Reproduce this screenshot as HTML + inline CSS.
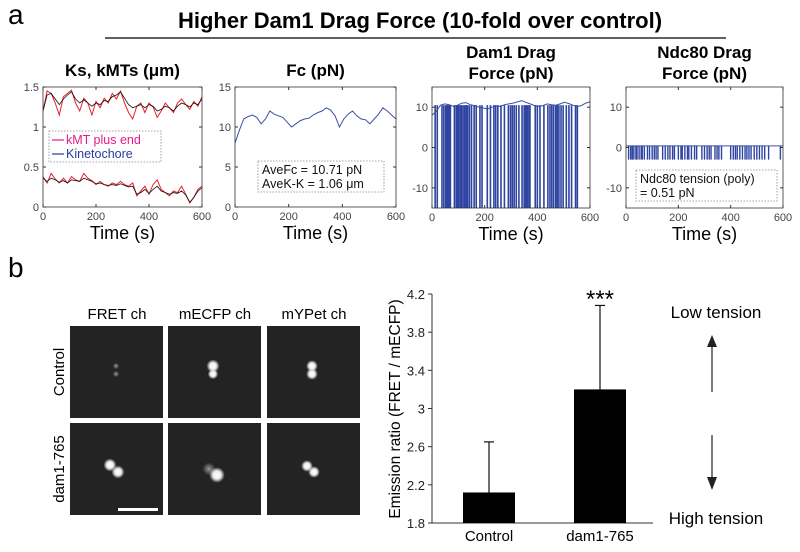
<!DOCTYPE html>
<html><head><meta charset="utf-8"><style>
body{margin:0;background:#fff;}
svg{display:block;font-family:"Liberation Sans",Arial,sans-serif;}
</style></head><body>
<svg id="fig" width="800" height="552" viewBox="0 0 800 552">
<defs>
<radialGradient id="spot"><stop offset="0" stop-color="#fff"/><stop offset="0.5" stop-color="#eee"/><stop offset="1" stop-color="#fff" stop-opacity="0"/></radialGradient>
<radialGradient id="spotDim"><stop offset="0" stop-color="#999"/><stop offset="1" stop-color="#999" stop-opacity="0"/></radialGradient>
</defs>
<text x="8" y="24" font-size="28">a</text>
<text x="420" y="28" font-size="22" font-weight="bold" text-anchor="middle">Higher Dam1 Drag Force (10-fold over control)</text>
<line x1="105" y1="38" x2="726" y2="38" stroke="#000" stroke-width="1.2"/>
<g id="panels"></g>
<text x="8" y="277" font-size="28">b</text>
<g id="micro"></g>
<g id="bars"></g>
</svg>
<script>
const NS="http://www.w3.org/2000/svg";
function mk(tag,attrs,parent){const e=document.createElementNS(NS,tag);for(const k in attrs)e.setAttribute(k,attrs[k]);parent.appendChild(e);return e;}

// ---- data panel a ----
const timeTicks=[0,200,400,600];
const ksUpperRed=[1.2,1.45,1.42,1.3,1.15,1.38,1.42,1.46,1.3,1.2,1.36,1.3,1.15,1.32,1.24,1.36,1.3,1.42,1.35,1.45,1.3,1.18,1.1,1.26,1.3,1.18,1.3,1.25,1.12,1.2,1.3,1.24,1.18,1.3,1.35,1.28,1.22,1.32,1.26,1.38];
const ksUpperBlack=[1.2,1.4,1.42,1.35,1.28,1.35,1.4,1.44,1.35,1.3,1.34,1.3,1.26,1.3,1.28,1.33,1.32,1.38,1.4,1.44,1.36,1.28,1.24,1.26,1.28,1.24,1.28,1.26,1.2,1.22,1.26,1.24,1.2,1.26,1.3,1.28,1.25,1.3,1.28,1.35];
const ksLowerRed=[0.38,0.3,0.42,0.35,0.3,0.36,0.3,0.38,0.34,0.32,0.42,0.36,0.33,0.28,0.32,0.28,0.26,0.3,0.28,0.32,0.28,0.26,0.3,0.14,0.2,0.26,0.16,0.28,0.34,0.22,0.18,0.14,0.2,0.18,0.26,0.16,0.05,0.12,0.22,0.26];
const ksLowerBlack=[0.36,0.32,0.36,0.34,0.31,0.33,0.3,0.34,0.33,0.32,0.36,0.34,0.32,0.29,0.3,0.28,0.27,0.28,0.27,0.29,0.27,0.25,0.26,0.16,0.18,0.22,0.17,0.22,0.26,0.2,0.18,0.16,0.18,0.17,0.2,0.15,0.06,0.12,0.2,0.24];
const fcValues=[8,9.6,11,11.3,11.5,11.2,10.4,11,12,11.6,11.4,11.2,10.6,10,10.4,10.8,11,11.1,11.5,11.8,12,12.4,12.1,11.4,10,11,11.6,12,11.4,11,10.9,10.4,11,11.6,12.4,12,11.5,11];
const dam1Env=[8,9,10.5,10.8,10.6,10.2,10.5,11,11.1,10.6,10.4,10,9.8,9.6,10,10.3,10.2,10.6,10.8,11,11.3,11.6,11.2,10.8,10.4,10.2,10.4,10.8,10.6,10.5,10.8,11.2,10.9,10.5,10.2,10.4,11,11.3];
const dam1DropTimes=[12,20,38,45,52,58,62,66,70,85,92,98,102,108,112,118,124,130,135,142,150,160,168,182,190,210,222,235,242,250,262,275,290,298,305,312,320,330,342,350,356,362,368,372,392,400,410,425,440,448,455,462,470,476,482,490,498,510,520,530,545,552];
const ndcDropTimes=[10,18,24,30,38,42,50,58,62,70,82,90,100,108,115,122,140,150,160,168,178,185,200,210,215,225,235,240,250,262,270,290,300,310,318,325,340,348,355,365,400,410,418,425,435,445,455,462,470,478,490,500,510,520,530,545,590];
const ndcBase=0.4, ndcLow=-3;

function panel(opt){
  const g=mk('g',{},document.getElementById('panels'));
  const X=t=>opt.x0+(t-0)/600*(opt.x1-opt.x0);
  const Y=v=>opt.y1-(v-opt.ymin)/(opt.ymax-opt.ymin)*(opt.y1-opt.y0);
  const cx=(opt.x0+opt.x1)/2;
  opt.title.forEach((s,i)=>{const t=mk('text',{x:cx,y:opt.ty+i*21,'font-size':17,'font-weight':'bold','text-anchor':'middle'},g);t.textContent=s;});
  const cl='c'+opt.name;
  const cp=mk('clipPath',{id:cl},g);mk('rect',{x:opt.x0,y:opt.y0,width:opt.x1-opt.x0,height:opt.y1-opt.y0},cp);
  const plot=mk('g',{'clip-path':'url(#'+cl+')'},g);
  opt.draw(plot,X,Y);
  const box=mk('rect',{x:opt.x0,y:opt.y0,width:opt.x1-opt.x0,height:opt.y1-opt.y0,fill:'none',stroke:'#333','stroke-width':0.8},g);
  
  timeTicks.forEach(t=>{const x=X(t);mk('line',{x1:x,x2:x,y1:opt.y1,y2:opt.y1-3,stroke:'#333'},g);mk('line',{x1:x,x2:x,y1:opt.y0,y2:opt.y0+3,stroke:'#333'},g);
    const tx=mk('text',{x:x,y:opt.y1+13,'font-size':11,fill:'#444','text-anchor':'middle'},g);tx.textContent=t;});
  opt.yticks.forEach((v,i)=>{const y=Y(v);mk('line',{x1:opt.x0,x2:opt.x0+3,y1:y,y2:y,stroke:'#333'},g);mk('line',{x1:opt.x1,x2:opt.x1-3,y1:y,y2:y,stroke:'#333'},g);
    const tx=mk('text',{x:opt.x0-4,y:y+4,'font-size':11,fill:'#444','text-anchor':'end'},g);tx.textContent=opt.ylabels[i];});
  const xt=mk('text',{x:cx,y:opt.y1+32,'font-size':18,'text-anchor':'middle'},g);xt.textContent='Time (s)';
  if(opt.after)opt.after(g,X,Y);
}
function line(p,arr,X,Y,col,w){const d=arr.map((v,i)=>(i?'L':'M')+X(i*600/(arr.length-1)).toFixed(1)+','+Y(v).toFixed(1)).join('');const e=mk('path',{d:d,fill:'none',stroke:col,'stroke-width':w||1},p);return e;}
function legendBox(g,x,y,w,h,lines){
  const r=mk('rect',{x:x,y:y,width:w,height:h,fill:'#fff',stroke:'#888','stroke-dasharray':'1.5,1.5','stroke-width':0.8},g);
  
  lines.forEach((l,i)=>{const t=mk('text',{x:x+(l.sw?17:4),y:y+13+i*14,'font-size':12.5,fill:l.c||'#111'},g);t.textContent=l.t;
    if(l.sw)mk('line',{x1:x+3,x2:x+15,y1:y+9+i*14,y2:y+9+i*14,stroke:l.sw,'stroke-width':1.2},g);});
}
panel({name:'ks-panel',x0:43,x1:202,y0:87,y1:207,ymin:0,ymax:1.5,yticks:[0,0.5,1,1.5],ylabels:['0','0.5','1','1.5'],title:['Ks, kMTs (\u03bcm)'],ty:76,
  draw:(p,X,Y)=>{const a=line(p,ksUpperRed,X,Y,'#e8202a');
    const b=line(p,ksUpperBlack,X,Y,'#111',0.8);
    const c=line(p,ksLowerRed,X,Y,'#e8202a');
    const d=line(p,ksLowerBlack,X,Y,'#111',0.8);},
  after:(g)=>legendBox(g,49,131,112,31,[{t:'kMT plus end',c:'#e8198c',sw:'#e8198c'},{t:'Kinetochore',c:'#2b3a9c',sw:'#2b3a9c'}])});
panel({name:'fc-panel',x0:235,x1:396,y0:87,y1:207,ymin:0,ymax:15,yticks:[0,5,10,15],ylabels:['0','5','10','15'],title:['Fc (pN)'],ty:76,
  draw:(p,X,Y)=>{const a=line(p,fcValues,X,Y,'#3a50a8');},
  after:(g)=>legendBox(g,258,161,126,31,[{t:'AveFc = 10.71 pN'},{t:'AveK-K = 1.06 \u03bcm'}])});
panel({name:'dam1-panel',x0:432,x1:590,y0:87,y1:208,ymin:-15,ymax:15,yticks:[-10,0,10],ylabels:['-10','0','10'],title:['Dam1 Drag','Force (pN)'],ty:58,
  draw:(p,X,Y)=>{const a=line(p,dam1Env,X,Y,'#3a50a8');
    dam1DropTimes.forEach(t=>{const e=mk('line',{x1:X(t),x2:X(t),y1:Y(10.5),y2:Y(-15),stroke:'#2e44a0','stroke-width':1.6},p);});}});
panel({name:'ndc80-panel',x0:626,x1:783,y0:87,y1:208,ymin:-15,ymax:15,yticks:[-10,0,10],ylabels:['-10','0','10'],title:['Ndc80 Drag','Force (pN)'],ty:58,
  draw:(p,X,Y)=>{const a=mk('line',{x1:X(0),x2:X(600),y1:Y(ndcBase),y2:Y(ndcBase),stroke:'#3a50a8'},p);
    ndcDropTimes.forEach(t=>{const e=mk('line',{x1:X(t),x2:X(t),y1:Y(ndcBase),y2:Y(ndcLow),stroke:'#2e44a0','stroke-width':1.4},p);});},
  after:(g)=>legendBox(g,636,170,141,31,[{t:'Ndc80 tension (poly)'},{t:'= 0.51 pN'}])});

// ---- microscopy ----
const micro=document.getElementById('micro');
const colNames=['FRET ch','mECFP ch','mYPet ch'];const colX=[70,168,267];
const rowNames=['Control','dam1-765'];const rowY=[326,423];
const spots=[[[[46,40,2.5,1],[46,48,2.5,1]],[[45,40,5,0],[45,48,4,0]],[[45,40,4.5,0],[45,48,4.5,0]]],
 [[[40,42,5,0],[48,49,5,0]],[[41,46,5,1],[49,52,6,0]],[[40,43,4.5,0],[47,49,4.5,0]]]];
rowNames.forEach((rn,r)=>{
  const t=mk('text',{transform:'translate(64,'+(rowY[r]+46)+') rotate(-90)','font-size':15,'text-anchor':'middle'},micro);t.textContent=rn;
  colNames.forEach((cn,c)=>{
    const s=mk('rect',{x:colX[c],y:rowY[r],width:93,height:92,fill:'#232323'},micro);
    spots[r][c].forEach(sp=>mk('circle',{cx:colX[c]+sp[0],cy:rowY[r]+sp[1],r:sp[2]*1.3,fill:sp[3]?'url(#spotDim)':'url(#spot)'},micro));
  });
});
colNames.forEach((cn,c)=>{const t=mk('text',{x:colX[c]+47,y:319,'font-size':15,'text-anchor':'middle'},micro);t.textContent=cn;});
const sb=mk('rect',{x:118,y:508,width:40,height:3,fill:'#fff'},micro);

// ---- bar chart ----
const barCats=['Control','dam1-765'];
const barVals=[2.12,3.2];
const barErr=[2.65,4.08];
const barTicks=[1.8,2.2,2.6,3,3.4,3.8,4.2];
const bg=document.getElementById('bars');
const bx0=432,bx1=653,by0=294,by1=523;
const BY=v=>by1-(v-1.8)/(4.2-1.8)*(by1-by0);
const bCenters=[489,600],bW=52;
mk('line',{x1:bx0,x2:bx0,y1:by0,y2:by1,stroke:'#333'},bg);
mk('line',{x1:bx0,x2:bx1,y1:by1,y2:by1,stroke:'#333'},bg);
barTicks.forEach(v=>{mk('line',{x1:bx0-4,x2:bx0,y1:BY(v),y2:BY(v),stroke:'#333'},bg);
  const t=mk('text',{x:bx0-7,y:BY(v)+5,'font-size':13,'text-anchor':'end',fill:'#222'},bg);t.textContent=(v===3?'3':v.toFixed(1));});
barCats.forEach((c,i)=>{
  const e=mk('line',{x1:bCenters[i],x2:bCenters[i],y1:BY(barErr[i]),y2:BY(barVals[i]),stroke:'#111','stroke-width':1.2},bg);
  mk('line',{x1:bCenters[i]-5,x2:bCenters[i]+5,y1:BY(barErr[i]),y2:BY(barErr[i]),stroke:'#111','stroke-width':1.2},bg);
  const r=mk('rect',{x:bCenters[i]-bW/2,y:BY(barVals[i]),width:bW,height:by1-BY(barVals[i]),fill:'#000'},bg);
  const t=mk('text',{x:bCenters[i],y:541,'font-size':15,'text-anchor':'middle'},bg);t.textContent=c;
});
const st=mk('text',{x:600,y:307,'font-size':24,'text-anchor':'middle'},bg);st.textContent='***';
const yl=mk('text',{transform:'translate(400,409) rotate(-90)','font-size':15.5,'text-anchor':'middle'},bg);yl.textContent='Emission ratio (FRET / mECFP)';
const lo=mk('text',{x:716,y:318,'font-size':17,'text-anchor':'middle'},bg);lo.textContent='Low tension';
const hi=mk('text',{x:716,y:524,'font-size':17,'text-anchor':'middle'},bg);hi.textContent='High tension';
const au=mk('g',{},bg);
mk('line',{x1:712,x2:712,y1:392,y2:340,stroke:'#222','stroke-width':1.2},au);mk('path',{d:'M707,347 L712,335 L717,347 Z',fill:'#222'},au);
const ad=mk('g',{},bg);
mk('line',{x1:712,x2:712,y1:435,y2:484,stroke:'#222','stroke-width':1.2},ad);mk('path',{d:'M707,477 L712,490 L717,477 Z',fill:'#222'},ad);
</script>
</body></html>
